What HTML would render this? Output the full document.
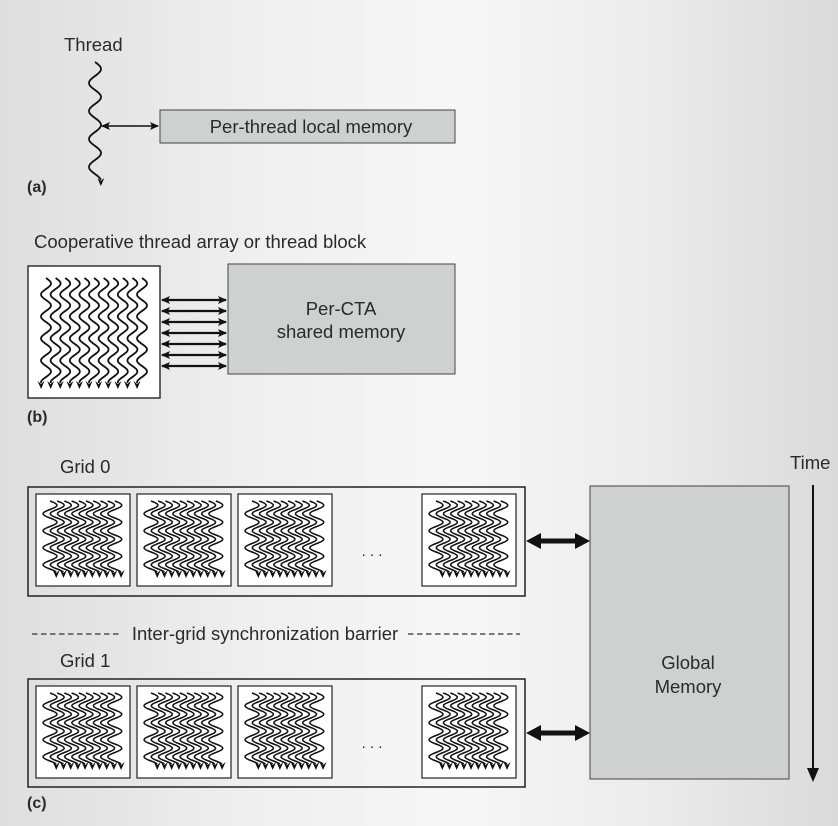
<!DOCTYPE html>
<html><head><meta charset="utf-8"><style>
html,body{margin:0;padding:0}
body{width:838px;height:826px;overflow:hidden;background:linear-gradient(to right,#dedede 0%,#efefef 30%,#f7f7f7 55%,#eaeaea 80%,#dadada 100%)}
svg{display:block}
text{font-family:"Liberation Sans",sans-serif;fill:#2a2a2a}
</style></head><body>
<svg id="s" width="838" height="826" xmlns="http://www.w3.org/2000/svg">
<defs>
<marker id="ah" markerWidth="9" markerHeight="8" refX="8" refY="4" orient="auto-start-reverse" markerUnits="userSpaceOnUse"><path d="M0,0 L9,4 L0,8 L2,4Z" fill="#111"/></marker>
</defs>
<text x="64" y="51" font-size="18.5">Thread</text>
<rect x="160" y="110" width="295" height="33" fill="#cfd0d0" stroke="#444" stroke-width="1"/>
<text x="311" y="133" font-size="18.5" text-anchor="middle">Per-thread local memory</text>
<line x1="102" y1="126" x2="158" y2="126" stroke="#111" stroke-width="1.5" marker-start="url(#ah)" marker-end="url(#ah)"/>
<text x="27" y="192" font-size="16" font-weight="bold">(a)</text>

<text x="34" y="248" font-size="18.5">Cooperative thread array or thread block</text>
<rect x="28" y="266" width="132" height="132" fill="#fff" stroke="#333" stroke-width="1.5"/>
<rect x="228" y="264" width="227" height="110" fill="#cfd0d0" stroke="#444" stroke-width="1"/>
<text x="341" y="315" font-size="18.5" text-anchor="middle">Per-CTA</text>
<text x="341" y="338" font-size="18.5" text-anchor="middle">shared memory</text>
<text x="27" y="422" font-size="16" font-weight="bold">(b)</text>

<text x="60" y="473" font-size="18.5">Grid 0</text>
<rect x="28" y="487" width="497" height="109" fill="none" stroke="#222" stroke-width="1.5"/>
<text x="372" y="556" font-size="15" text-anchor="middle">. . .</text>
<line x1="32" y1="634" x2="120" y2="634" stroke="#333" stroke-width="1.3" stroke-dasharray="5.5,3.5"/>
<text x="265" y="640" font-size="18.5" text-anchor="middle">Inter-grid synchronization barrier</text>
<line x1="408" y1="634" x2="520" y2="634" stroke="#333" stroke-width="1.3" stroke-dasharray="5.5,3.5"/>
<text x="60" y="667" font-size="18.5">Grid 1</text>
<rect x="28" y="679" width="497" height="108" fill="none" stroke="#222" stroke-width="1.5"/>
<text x="372" y="748" font-size="15" text-anchor="middle">. . .</text>
<rect x="590" y="486" width="199" height="293" fill="#cfd0d0" stroke="#444" stroke-width="1"/>
<text x="688" y="669" font-size="18.5" text-anchor="middle">Global</text>
<text x="688" y="693" font-size="18.5" text-anchor="middle">Memory</text>
<text x="790" y="469" font-size="18.5">Time</text>
<line x1="813" y1="485" x2="813" y2="770" stroke="#111" stroke-width="2"/>
<path d="M807,768 L813,782 L819,768Z" fill="#111"/>
<text x="27" y="808" font-size="16" font-weight="bold">(c)</text>
<g id="dyn"></g>
</svg>
<script>
var g=document.getElementById('dyn'),ns='http://www.w3.org/2000/svg';
function el(t,a){var e=document.createElementNS(ns,t);for(var k in a)e.setAttribute(k,a[k]);g.appendChild(e);return e;}
function wave(x,y0,y1,amp,per,sw){var d='M'+x+','+y0;for(var y=y0;y<=y1;y+=1){d+=' L'+(x+amp*Math.sin((y-y0)/per*2*Math.PI)).toFixed(2)+','+y;}
el('path',{d:d,fill:'none',stroke:'#111','stroke-width':sw});
var xe=x+amp*Math.sin((y1-y0)/per*2*Math.PI);el('path',{d:'M'+(xe-3.5)+','+(y1-2)+' L'+xe+','+(y1+6)+' L'+(xe+3.5)+','+(y1-2)+' L'+xe+','+(y1+1)+'Z',fill:'#111'});}
wave(95,62,180,6,28,1.8);
for(var i=0;i<11;i++)wave(46+i*9.6,278,383,5,22,1.8);
for(var j=0;j<7;j++){var y=300+j*11;el('line',{x1:162,y1:y,x2:226,y2:y,stroke:'#111','stroke-width':2.2,'marker-start':'url(#ah)','marker-end':'url(#ah)'});}
function cta(x,y){el('rect',{x:x,y:y,width:94,height:92,fill:'#fff',stroke:'#222','stroke-width':1.2});
for(var i=0;i<10;i++)wave(x+14+i*7.2,y+7,y+78,7,17,1.5);}
[[36,494],[137,494],[238,494],[422,494],[36,686],[137,686],[238,686],[422,686]].forEach(function(p){cta(p[0],p[1]);});
function big(y){el('path',{d:'M526,'+y+' L541,'+(y-8)+' L541,'+(y-2.5)+' L575,'+(y-2.5)+' L575,'+(y-8)+' L590,'+y+' L575,'+(y+8)+' L575,'+(y+2.5)+' L541,'+(y+2.5)+' L541,'+(y+8)+'Z',fill:'#111'});}
big(541);big(733);
</script>
</body></html>
